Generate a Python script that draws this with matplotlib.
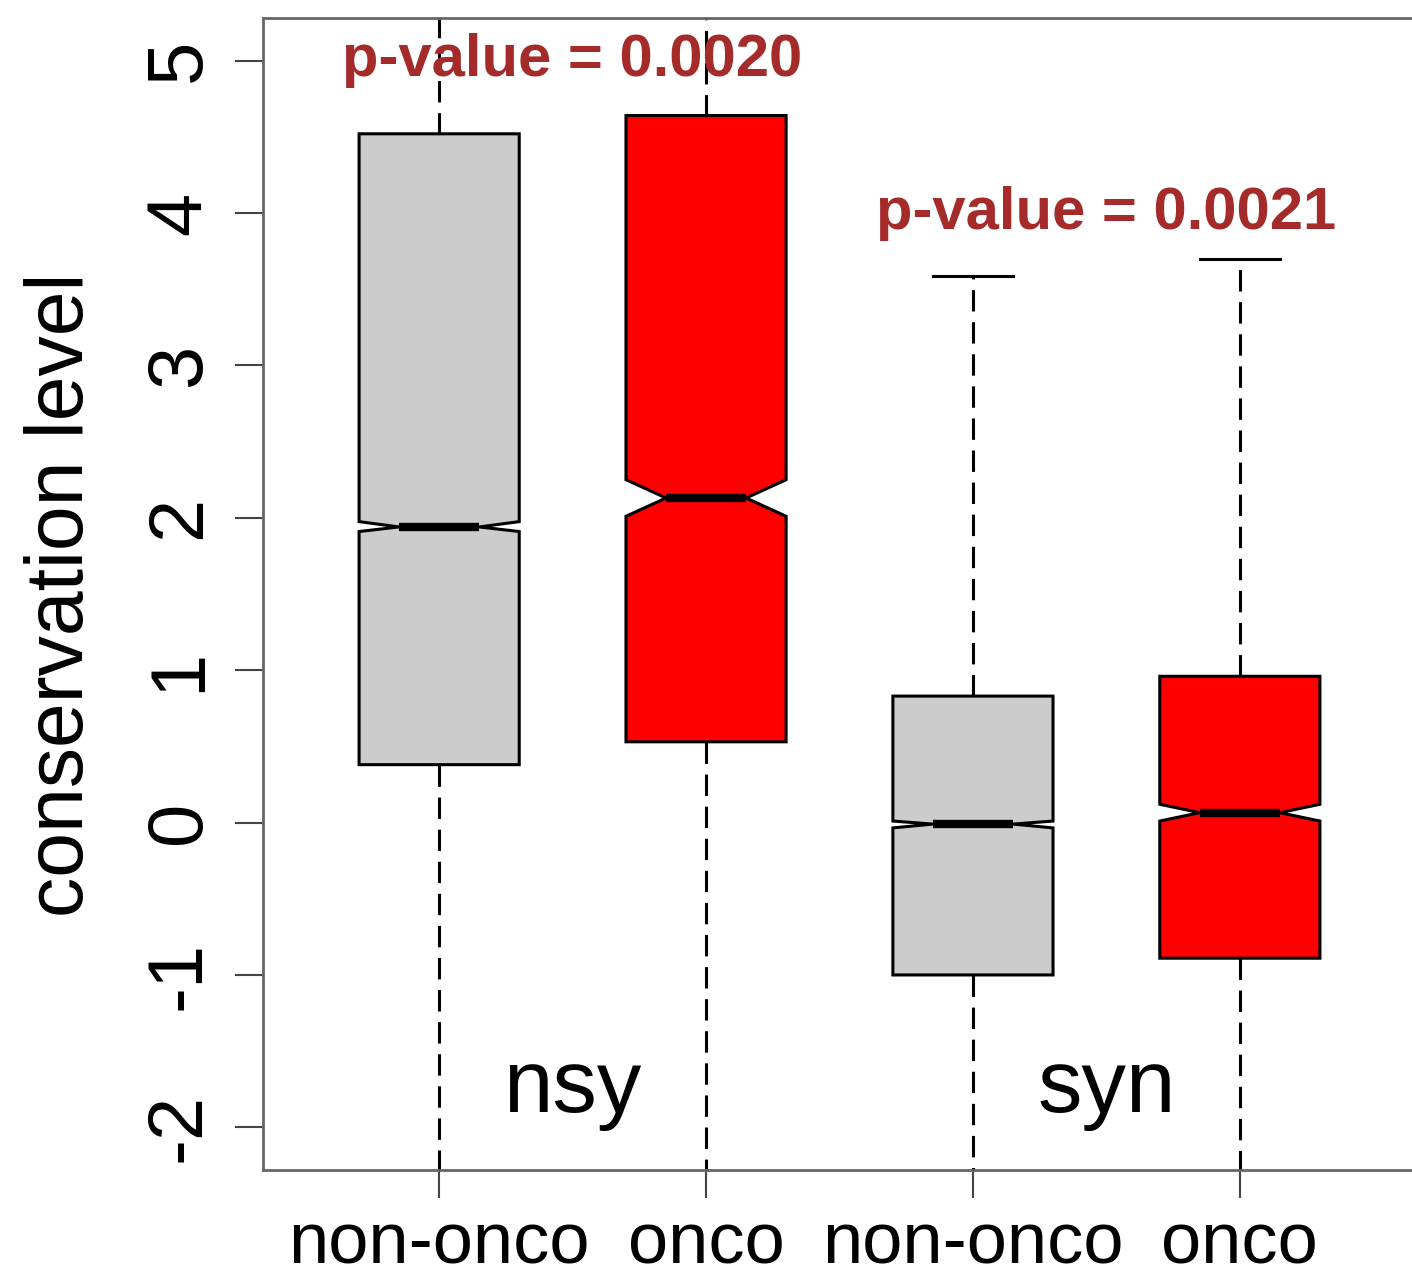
import matplotlib
matplotlib.use("Agg")
import matplotlib.pyplot as plt

plt.rcParams["font.family"] = ["Liberation Sans", "DejaVu Sans"]

# Box statistics (conservation level)
tick_labels = ["non-onco", "onco", "non-onco", "onco"]
medians = [1.94, 2.13, -0.01, 0.065]
q1 = [0.38, 0.53, -1.00, -0.89]
q3 = [4.52, 4.64, 0.83, 0.96]
ci_low = [1.91, 2.01, -0.035, 0.01]
ci_high = [1.975, 2.25, 0.01, 0.12]
whisk_low = [-2.6, -2.6, -2.6, -2.6]
whisk_high = [5.6, 5.6, 3.59, 3.70]
box_colors = ["#CCCCCC", "#FF0000", "#CCCCCC", "#FF0000"]

groups = ["nsy", "syn"]
pvalues = ["p-value = 0.0020", "p-value = 0.0021"]
pvalue_y = [5.0, 4.0]

stats = []
for i in range(len(medians)):
    stats.append({
        "med": medians[i], "q1": q1[i], "q3": q3[i],
        "whislo": whisk_low[i], "whishi": whisk_high[i],
        "cilo": ci_low[i], "cihi": ci_high[i], "fliers": [],
    })

positions = [1, 2, 3, 4]

fig = plt.figure(figsize=(14.12, 12.8), dpi=100)
ax = fig.add_axes([263 / 1412, 1 - 1170 / 1280, 1153 / 1412, 1152 / 1280])

bp = ax.bxp(stats, positions=positions, widths=0.6, shownotches=True, patch_artist=True,
            showfliers=False,
            boxprops=dict(edgecolor="black", linewidth=2.2),
            whiskerprops=dict(color="black", linewidth=2.2, linestyle=(0, (7, 3.5))),
            capprops=dict(color="black", linewidth=2.2),
            medianprops=dict(color="black", linewidth=6.0, solid_capstyle="butt"))
for patch, c in zip(bp["boxes"], box_colors):
    patch.set_facecolor(c)

ax.set_xlim(0.34, 4.66)
ax.set_ylim(-2.28, 5.28)

ax.set_xticks(positions)
ax.set_xticklabels(tick_labels, fontsize=52)
ax.set_yticks(range(-2, 6))
ax.set_yticklabels([str(v) for v in range(-2, 6)], fontsize=56, rotation=90, va="center")
ax.tick_params(axis="both", direction="out", length=20, width=1.5, color="#444444")
ax.tick_params(axis="x", pad=10)
ax.tick_params(axis="y", pad=14)

for side in ["left", "top", "bottom", "right"]:
    ax.spines[side].set_color("#666666")
    ax.spines[side].set_linewidth(2.0)

# Group labels and p-values
for i, g in enumerate(groups):
    xc = (positions[2 * i] + positions[2 * i + 1]) / 2
    ax.text(xc, -1.75, g, fontsize=64, ha="center", va="center")
    ax.text(xc, pvalue_y[i], pvalues[i], fontsize=43, fontweight="bold",
            color="#A52A2A", ha="center", va="center")

fig.text(62 / 1412, 1 - 595 / 1280, "conservation level", fontsize=58,
         rotation=90, ha="center", va="center")

fig.savefig("out.png", dpi=100)
